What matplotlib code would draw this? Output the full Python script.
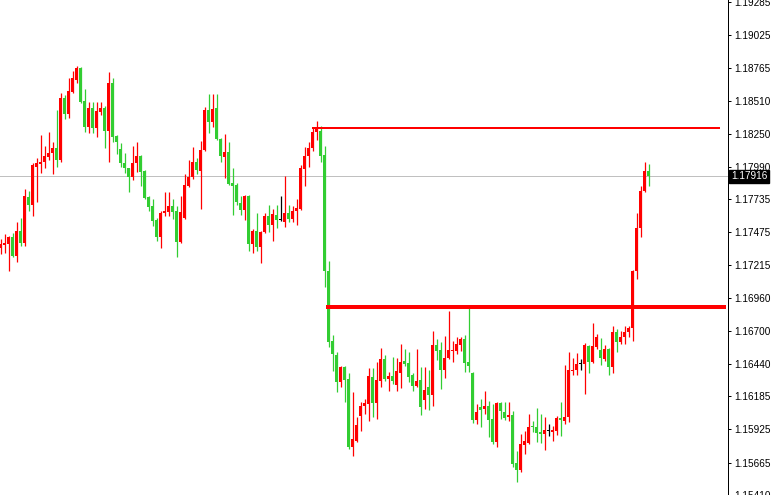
import numpy as np
import matplotlib
matplotlib.use("Agg")
from matplotlib import pyplot as plt

# EURUSD-like candles (left -> right)
opens = [
    1.17350, 1.17373, 1.17381, 1.17436, 1.17287, 1.17483, 1.17389, 1.17749, 1.17687, 1.17992,
    1.18008, 1.18024, 1.18063, 1.18095, 1.18141, 1.18047, 1.18533, 1.18408, 1.18580, 1.18674,
    1.18768, 1.18509, 1.18306, 1.18454, 1.18298, 1.18423, 1.18454, 1.18274, 1.18651, 1.18235,
    1.18126, 1.18016, 1.17977, 1.17906, 1.18016, 1.18071, 1.17953, 1.17749, 1.17679, 1.17569,
    1.17436, 1.17624, 1.17632, 1.17679, 1.17639, 1.17397, 1.17585, 1.17836, 1.17906, 1.18031,
    1.17953, 1.18118, 1.18439, 1.18345, 1.18454, 1.18212, 1.18063, 1.18103, 1.17860, 1.17844,
    1.17703, 1.17647, 1.17757, 1.17381, 1.17483, 1.17357, 1.17475, 1.17600, 1.17530, 1.17608,
    1.17577, 1.17553, 1.17624, 1.17577, 1.17639, 1.17655, 1.17969, 1.18071, 1.18134, 1.18266,
    1.18274, 1.18079, 1.17169, 1.16621, 1.16511, 1.16300, 1.16417, 1.16323, 1.15790, 1.15837,
    1.16033, 1.16112, 1.16128, 1.16339, 1.16136, 1.16307, 1.16480, 1.16323, 1.16347, 1.16276,
    1.16371, 1.16464, 1.16449, 1.16355, 1.16268, 1.16315, 1.16159, 1.16260, 1.16198, 1.16590,
    1.16550, 1.16394, 1.16487, 1.16542, 1.16542, 1.16590, 1.16637, 1.16457, 1.16371, 1.16002,
    1.16104, 1.16088, 1.16112, 1.16010, 1.15829, 1.16136, 1.16065, 1.16025, 1.16041, 1.15658,
    1.15603, 1.15806, 1.15822, 1.15947, 1.15947, 1.15909, 1.15892, 1.15916, 1.15909, 1.15916,
    1.16018, 1.15994, 1.16025, 1.16386, 1.16394, 1.16441, 1.16441, 1.16582, 1.16457, 1.16574,
    1.16550, 1.16480, 1.16558, 1.16417, 1.16691, 1.16613, 1.16652, 1.16691, 1.16723, 1.17169,
    1.17507, 1.17796, 1.17953,
]
highs = [
    1.17420, 1.17460, 1.17444, 1.17468, 1.17553, 1.17585, 1.17812, 1.17796, 1.18016, 1.18055,
    1.18243, 1.18157, 1.18266, 1.18188, 1.18439, 1.18573, 1.18557, 1.18690, 1.18745, 1.18784,
    1.18776, 1.18604, 1.18501, 1.18501, 1.18501, 1.18501, 1.18470, 1.18737, 1.18690, 1.18243,
    1.18173, 1.18095, 1.17984, 1.18157, 1.18181, 1.18079, 1.17961, 1.17757, 1.17734, 1.17585,
    1.17639, 1.17789, 1.17789, 1.17734, 1.17679, 1.17757, 1.17930, 1.18047, 1.18149, 1.18055,
    1.18196, 1.18462, 1.18565, 1.18565, 1.18565, 1.18219, 1.18251, 1.18188, 1.17984, 1.17860,
    1.17757, 1.17765, 1.17765, 1.17499, 1.17624, 1.17483, 1.17624, 1.17687, 1.17655, 1.17687,
    1.17757, 1.17914, 1.17687, 1.17679, 1.17734, 1.18000, 1.18149, 1.18188, 1.18298, 1.18353,
    1.18314, 1.18157, 1.17248, 1.16668, 1.16535, 1.16425, 1.16425, 1.16371, 1.16222, 1.16025,
    1.16144, 1.16167, 1.16410, 1.16410, 1.16457, 1.16567, 1.16511, 1.16379, 1.16495, 1.16487,
    1.16598, 1.16558, 1.16535, 1.16371, 1.16558, 1.16417, 1.16417, 1.16394, 1.16699, 1.16637,
    1.16613, 1.16660, 1.16856, 1.16621, 1.16652, 1.16652, 1.16668, 1.16880, 1.16379, 1.16128,
    1.16167, 1.16230, 1.16151, 1.16128, 1.16144, 1.16144, 1.16144, 1.16144, 1.16072, 1.15759,
    1.15892, 1.15916, 1.16049, 1.15994, 1.16096, 1.16049, 1.16025, 1.15971, 1.15955, 1.16033,
    1.16144, 1.16433, 1.16535, 1.16487, 1.16527, 1.16480, 1.16606, 1.16590, 1.16762, 1.16676,
    1.16644, 1.16590, 1.16567, 1.16738, 1.16715, 1.16699, 1.16738, 1.16738, 1.17177, 1.17624,
    1.17836, 1.18031, 1.18008,
]
lows = [
    1.17303, 1.17311, 1.17169, 1.17279, 1.17240, 1.17365, 1.17365, 1.17639, 1.17600, 1.17711,
    1.17938, 1.17977, 1.18047, 1.17930, 1.17992, 1.18031, 1.18369, 1.18376, 1.18573, 1.18651,
    1.18494, 1.18266, 1.18259, 1.18259, 1.18227, 1.18400, 1.18134, 1.18031, 1.18181, 1.18087,
    1.17992, 1.17938, 1.17789, 1.17883, 1.17946, 1.17836, 1.17734, 1.17639, 1.17522, 1.17404,
    1.17350, 1.17600, 1.17600, 1.17577, 1.17279, 1.17389, 1.17577, 1.17828, 1.17891, 1.17930,
    1.17655, 1.18110, 1.18259, 1.18306, 1.18204, 1.18024, 1.17899, 1.17844, 1.17608, 1.17687,
    1.17608, 1.17569, 1.17326, 1.17311, 1.17326, 1.17233, 1.17468, 1.17475, 1.17404, 1.17507,
    1.17561, 1.17514, 1.17553, 1.17553, 1.17530, 1.17647, 1.17836, 1.17992, 1.18110, 1.18204,
    1.18024, 1.17044, 1.16574, 1.16386, 1.16222, 1.16260, 1.16144, 1.15775, 1.15720, 1.15829,
    1.15916, 1.16049, 1.15994, 1.16025, 1.16010, 1.16260, 1.16307, 1.16230, 1.16284, 1.16230,
    1.16252, 1.16425, 1.16300, 1.16230, 1.16260, 1.16041, 1.16088, 1.16080, 1.16112, 1.16472,
    1.16245, 1.16331, 1.16480, 1.16457, 1.16519, 1.16542, 1.16379, 1.16379, 1.15979, 1.15971,
    1.15947, 1.16049, 1.15869, 1.15814, 1.15790, 1.16010, 1.16002, 1.15994, 1.15634, 1.15516,
    1.15587, 1.15736, 1.15814, 1.15909, 1.15829, 1.15822, 1.15767, 1.15877, 1.15837, 1.15885,
    1.15877, 1.15971, 1.15986, 1.16355, 1.16355, 1.16394, 1.16206, 1.16371, 1.16449, 1.16558,
    1.16433, 1.16464, 1.16355, 1.16371, 1.16535, 1.16598, 1.16598, 1.16652, 1.16621, 1.17107,
    1.17436, 1.17789, 1.17836,
]
closes = [
    1.17381, 1.17389, 1.17436, 1.17287, 1.17483, 1.17389, 1.17757, 1.17687, 1.18000, 1.18016,
    1.18024, 1.18071, 1.18095, 1.18141, 1.18047, 1.18533, 1.18408, 1.18588, 1.18690, 1.18768,
    1.18501, 1.18306, 1.18454, 1.18298, 1.18431, 1.18454, 1.18274, 1.18651, 1.18227, 1.18181,
    1.18016, 1.17977, 1.17906, 1.18016, 1.18071, 1.17946, 1.17742, 1.17671, 1.17561, 1.17436,
    1.17624, 1.17639, 1.17679, 1.17632, 1.17397, 1.17632, 1.17844, 1.17906, 1.18031, 1.17961,
    1.18118, 1.18439, 1.18345, 1.18447, 1.18212, 1.18071, 1.18103, 1.17852, 1.17836, 1.17711,
    1.17647, 1.17757, 1.17381, 1.17483, 1.17357, 1.17475, 1.17600, 1.17530, 1.17616, 1.17569,
    1.17577, 1.17624, 1.17577, 1.17639, 1.17664, 1.17977, 1.18071, 1.18141, 1.18266, 1.18291,
    1.18071, 1.17169, 1.16613, 1.16519, 1.16300, 1.16417, 1.16315, 1.15790, 1.15853, 1.15963,
    1.16112, 1.16136, 1.16347, 1.16136, 1.16315, 1.16480, 1.16323, 1.16347, 1.16307, 1.16386,
    1.16457, 1.16441, 1.16339, 1.16268, 1.16307, 1.16104, 1.16237, 1.16198, 1.16590, 1.16542,
    1.16394, 1.16487, 1.16550, 1.16550, 1.16598, 1.16637, 1.16449, 1.16425, 1.16002, 1.16065,
    1.16080, 1.16112, 1.16002, 1.15829, 1.16136, 1.16072, 1.16018, 1.16041, 1.15650, 1.15603,
    1.15814, 1.15837, 1.15947, 1.15940, 1.15901, 1.15892, 1.15924, 1.15916, 1.15924, 1.16018,
    1.16002, 1.16025, 1.16394, 1.16394, 1.16441, 1.16441, 1.16590, 1.16457, 1.16582, 1.16652,
    1.16487, 1.16558, 1.16417, 1.16691, 1.16613, 1.16652, 1.16691, 1.16723, 1.17169, 1.17507,
    1.17796, 1.17953, 1.17916,
]

price_ticks = [1.19285, 1.19025, 1.18765, 1.18510, 1.18250, 1.17990, 1.17735, 1.17475,
               1.17215, 1.16960, 1.16700, 1.16440, 1.16185, 1.15925, 1.15665, 1.15410]

# horizontal levels drawn on the chart and the candle they start from
resistance = 1.18291
resistance_from = 78
support = 1.16887
support_from = 82

o = np.array(opens)
h = np.array(highs)
l = np.array(lows)
c = np.array(closes)
x = np.arange(len(o))

up_col = "#FF0000"
down_col = "#32CD32"
cols = np.where(c > o, up_col, np.where(c < o, down_col, "#000000"))

fig = plt.figure(figsize=(7.72, 4.95), dpi=100)
ax = fig.add_axes([0, 0, 728 / 772, 1])

px = 0.72  # one pixel in points at dpi 100
ax.vlines(x, l, h, colors=cols, linewidth=0.9, zorder=3)
body_h = np.maximum(np.abs(c - o), 0.00008)
body_bot = np.where(np.abs(c - o) < 0.00008, o - 0.00004, np.minimum(o, c))
ax.bar(x, body_h, bottom=body_bot, width=0.75, color=cols, linewidth=0,
       antialiased=False, zorder=4)

# last price line
ax.axhline(c[-1], color="#C0C0C0", linewidth=px, zorder=1)

# drawn levels
xmin, xmax = -0.2, 181.8
ax.hlines(resistance, resistance_from - 0.2, xmax - 2.0, color=up_col,
          linewidth=2 * px, zorder=5)
ax.hlines(support, support_from - 0.7, xmax - 0.5, color=up_col,
          linewidth=4 * px, zorder=5)

ax.set_xlim(xmin, xmax)
ax.set_ylim(1.154220, 1.193007)

ax.set_xticks([])
ax.yaxis.tick_right()
ax.set_yticks(price_ticks)
ax.set_yticklabels([f"{t:.5f}" for t in price_ticks])
ax.tick_params(axis="y", direction="out", length=3 * px, width=px, pad=2.2,
               labelsize=7.2, colors="black")
for lab in ax.get_yticklabels():
    lab.set_family("Liberation Sans")

for side in ["top", "left", "bottom"]:
    ax.spines[side].set_visible(False)
ax.spines["right"].set_linewidth(px)
ax.spines["right"].set_color("black")

# current price tag
ax.text(1.004, c[-1], f"{c[-1]:.5f}", transform=ax.get_yaxis_transform(),
        ha="left", va="center", color="white", fontsize=7.2,
        family="Liberation Sans", clip_on=False,
        bbox=dict(boxstyle="square,pad=0.15", fc="black", ec="black"))

fig.savefig("out.png", dpi=100)
